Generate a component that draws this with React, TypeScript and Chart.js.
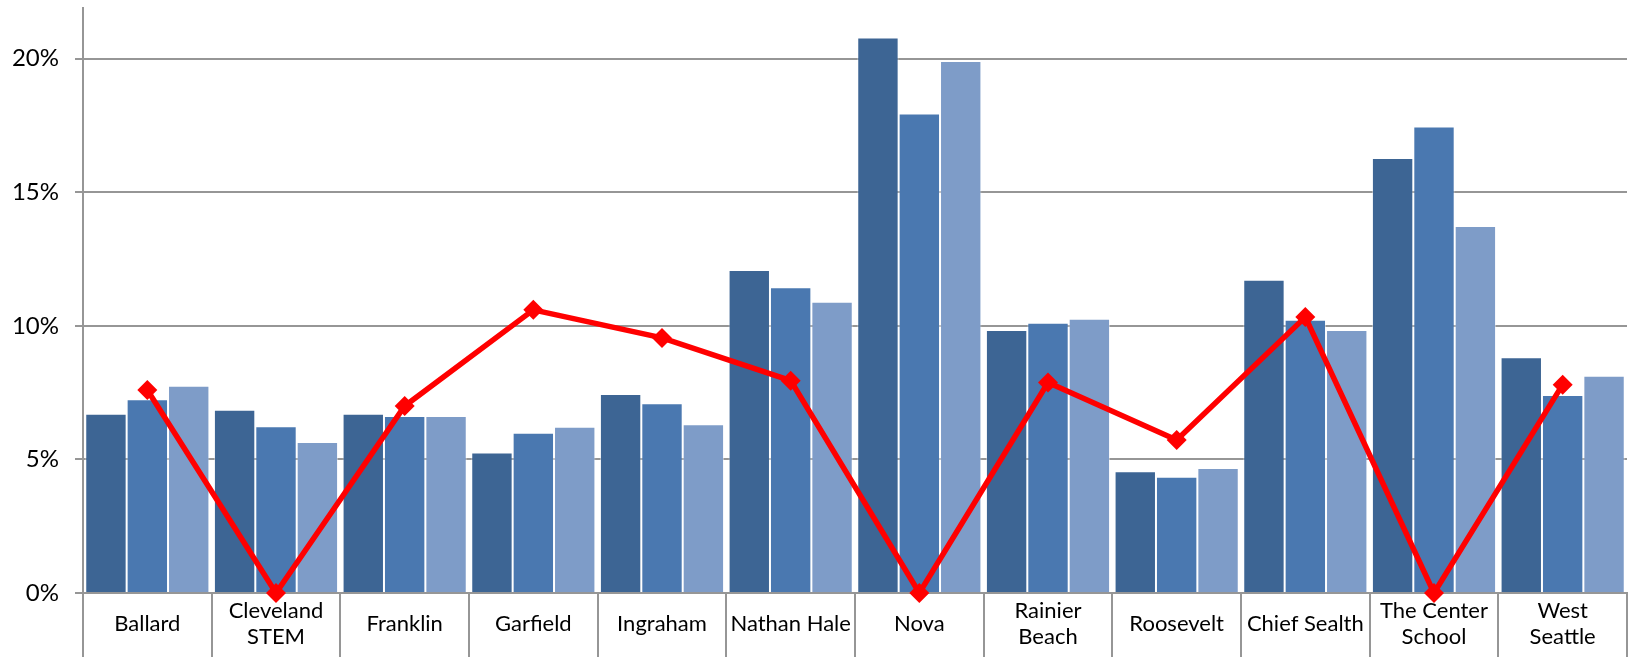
import React, { useEffect, useRef } from "react";
import { Chart, registerables } from "chart.js";

Chart.register(...registerables);

const categories: (string | string[])[] = [
  "Ballard",
  ["Cleveland", "STEM"],
  "Franklin",
  "Garfield",
  "Ingraham",
  "Nathan Hale",
  "Nova",
  ["Rainier", "Beach"],
  "Roosevelt",
  "Chief Sealth",
  ["The Center", "School"],
  ["West", "Seattle"],
];

const series1 = [6.71, 6.86, 6.71, 5.26, 7.45, 12.09, 20.8, 9.85, 4.56, 11.73, 16.28, 8.83];
const series2 = [7.25, 6.24, 6.63, 6.0, 7.1, 11.45, 17.95, 10.12, 4.35, 10.23, 17.46, 7.41];
const series3 = [7.76, 5.65, 6.63, 6.22, 6.32, 10.9, 19.92, 10.27, 4.68, 9.85, 13.74, 8.13];
const lineSeries = [7.6, 0, 7.0, 10.6, 9.55, 7.95, 0, 7.88, 5.73, 10.33, 0, 7.8];

const yTicks = [0, 5, 10, 15, 20];

const GRAY = "#969696";
const FONT = "Lato";

export default function App() {
  const ref = useRef<HTMLCanvasElement | null>(null);

  useEffect(() => {
    document.body.style.margin = "0";
    const canvas = ref.current;
    if (!canvas) return;
    const barCommon = {
      type: "bar" as const,
      order: 2,
      borderWidth: 1,
      borderColor: "rgba(255,255,255,0.45)",
      categoryPercentage: 0.965,
      barPercentage: 1.0,
    };
    const chart = new Chart(canvas, {
      type: "bar",
      data: {
        labels: categories,
        datasets: [
          { ...barCommon, label: "S1", data: series1, backgroundColor: "#3D6594" },
          { ...barCommon, label: "S2", data: series2, backgroundColor: "#4A78B0" },
          { ...barCommon, label: "S3", data: series3, backgroundColor: "#7E9CC8" },
          {
            type: "line",
            label: "L",
            data: lineSeries,
            order: 0,
            borderColor: "#FF0000",
            backgroundColor: "#FF0000",
            borderWidth: 5.5,
            pointStyle: "rectRot",
            pointRadius: 10,
            pointBorderWidth: 0,
            pointBackgroundColor: "#FF0000",
            tension: 0,
            clip: false as any,
          } as any,
        ],
      },
      options: {
        animation: false,
        responsive: false,
        maintainAspectRatio: false,
        layout: { autoPadding: false, padding: { top: 8, right: 5, left: 0, bottom: 0 } },
        plugins: {
          legend: { display: false },
          tooltip: { enabled: false },
        },
        scales: {
          x: {
            offset: true,
            border: { display: true, color: GRAY, width: 2 },
            grid: {
              offset: true,
              drawOnChartArea: true,
              drawTicks: true,
              tickLength: 64,
              lineWidth: 2,
              color: (ctx: any) => (ctx.index === categories.length ? GRAY : "rgba(0,0,0,0)"),
              tickColor: GRAY,
            } as any,
            ticks: {
              color: "#000",
              font: { family: FONT, size: 22 },
              padding: -46,
              maxRotation: 0,
              autoSkip: false,
              crossAlign: "center",
            } as any,
            afterFit: (scale: any) => {
              scale.height = 64;
              scale.paddingLeft = 0;
              scale.paddingRight = 0;
            },
          },
          y: {
            min: 0,
            max: 21.9,
            border: { display: true, color: GRAY, width: 2 },
            grid: {
              color: GRAY,
              lineWidth: 2,
              tickLength: 8,
            },
            ticks: {
              color: "#000",
              font: { family: FONT, size: 24 },
              padding: 16,
              stepSize: 5,
              callback: (v: any) => v + "%",
            },
            afterBuildTicks: (axis: any) => {
              axis.ticks = yTicks.map((v) => ({ value: v }));
            },
            afterFit: (scale: any) => {
              scale.width = 83;
              scale.paddingTop = 0;
              scale.paddingBottom = 0;
            },
          },
        },
      },
    });
    return () => chart.destroy();
  }, []);

  return (
    <div style={{ position: "fixed", left: 0, top: 0, width: 1632, height: 657, background: "#fff" }}>
      <canvas ref={ref} width={1632} height={657} style={{ width: 1632, height: 657, display: "block" }} />
    </div>
  );
}
